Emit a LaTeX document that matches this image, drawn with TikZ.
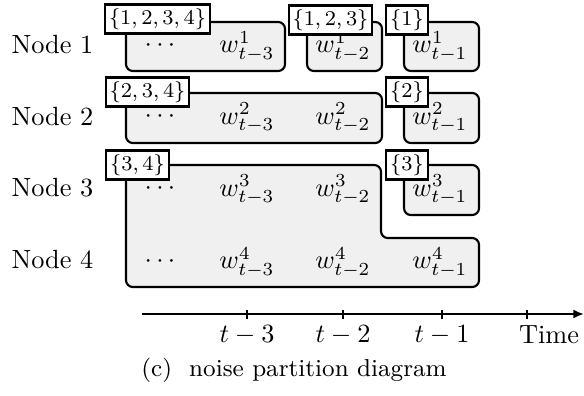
\documentclass[tikz,border=0pt]{standalone}
\usetikzlibrary{arrows.meta}
\begin{document}
\begin{tikzpicture}[x=0.38pt,y=-0.38pt,
  blk/.style={draw=black,fill=black!6,line width=0.8pt,rounded corners=2.6pt},
  setlbl/.style={draw=black,fill=white,line width=0.8pt,font=\footnotesize,inner sep=1.5pt},
  rowlbl/.style={anchor=west,inner sep=0pt},
  axisline/.style={line width=0.8pt},
  txt/.style={inner sep=0pt}]
\useasboundingbox (0,0) rectangle (584,395);
% row labels
\node[rowlbl] (n1) at (11,45) {Node 1};
\node[rowlbl] (n2) at (11,117) {Node 2};
\node[rowlbl] (n3) at (11,188) {Node 3};
\node[rowlbl] (n4) at (11,260) {Node 4};
% boxes
\draw[blk] (126,22) rectangle (285,71);
\draw[blk] (307,22) rectangle (382,71);
\draw[blk] (404,22) rectangle (479,71);
\draw[blk] (126,93) rectangle (382,143);
\draw[blk] (404,93) rectangle (479,143);
\draw[blk] (126,165) -- (381,165) -- (381,238) -- (479,238) -- (479,287) -- (126,287) -- cycle;
\draw[blk] (404,165) rectangle (479,215);
% contents
\node[txt] (d1) at (160,45.5) {$\cdots$};
\node[txt] (w13) at (247,46.5) {$w^1_{t-3}$};
\node[txt] (w12) at (343,46.5) {$w^1_{t-2}$};
\node[txt] (w11) at (440,46.5) {$w^1_{t-1}$};
\node[txt] (d2) at (160,116.5) {$\cdots$};
\node[txt] (w23) at (247,118) {$w^2_{t-3}$};
\node[txt] (w22) at (343,118) {$w^2_{t-2}$};
\node[txt] (w21) at (440,118) {$w^2_{t-1}$};
\node[txt] (d3) at (160,188.5) {$\cdots$};
\node[txt] (w33) at (247,190) {$w^3_{t-3}$};
\node[txt] (w32) at (343,190) {$w^3_{t-2}$};
\node[txt] (w31) at (440,190) {$w^3_{t-1}$};
\node[txt] (d4) at (160,261.5) {$\cdots$};
\node[txt] (w43) at (247,262.5) {$w^4_{t-3}$};
\node[txt] (w42) at (343,262.5) {$w^4_{t-2}$};
\node[txt] (w41) at (440,262.5) {$w^4_{t-1}$};
% set labels
\node[setlbl] (s1234) at (157.5,19) {$\{1,2,3,4\}$};
\node[setlbl] (s123) at (330.5,20) {$\{1,2,3\}$};
\node[setlbl] (s1) at (407,20) {$\{1\}$};
\node[setlbl] (s234) at (147.5,92) {$\{2,3,4\}$};
\node[setlbl] (s2) at (407,92) {$\{2\}$};
\node[setlbl] (s34) at (137.5,165) {$\{3,4\}$};
\node[setlbl] (s3) at (407,165) {$\{3\}$};
% axis
\coordinate (ax0) at (142,314);
\coordinate (ax1) at (584,314);
\draw[axisline,-{Latex[length=4pt,width=3.4pt]}] (ax0) -- (ax1);
\foreach \x in {247,343,442,527} \draw[axisline] (\x,309.5) -- (\x,318.5);
\node[txt] (t3) at (247,335) {$t-3$};
\node[txt] (t2) at (343,335) {$t-2$};
\node[txt] (t1) at (442,335) {$t-1$};
\node[txt] (tm) at (549,335) {Time};
\node[txt,font=\fontsize{9.3}{11}\selectfont] (cap) at (294,370) {(c)\hspace{0.7em}noise partition diagram};
\end{tikzpicture}
\end{document}
